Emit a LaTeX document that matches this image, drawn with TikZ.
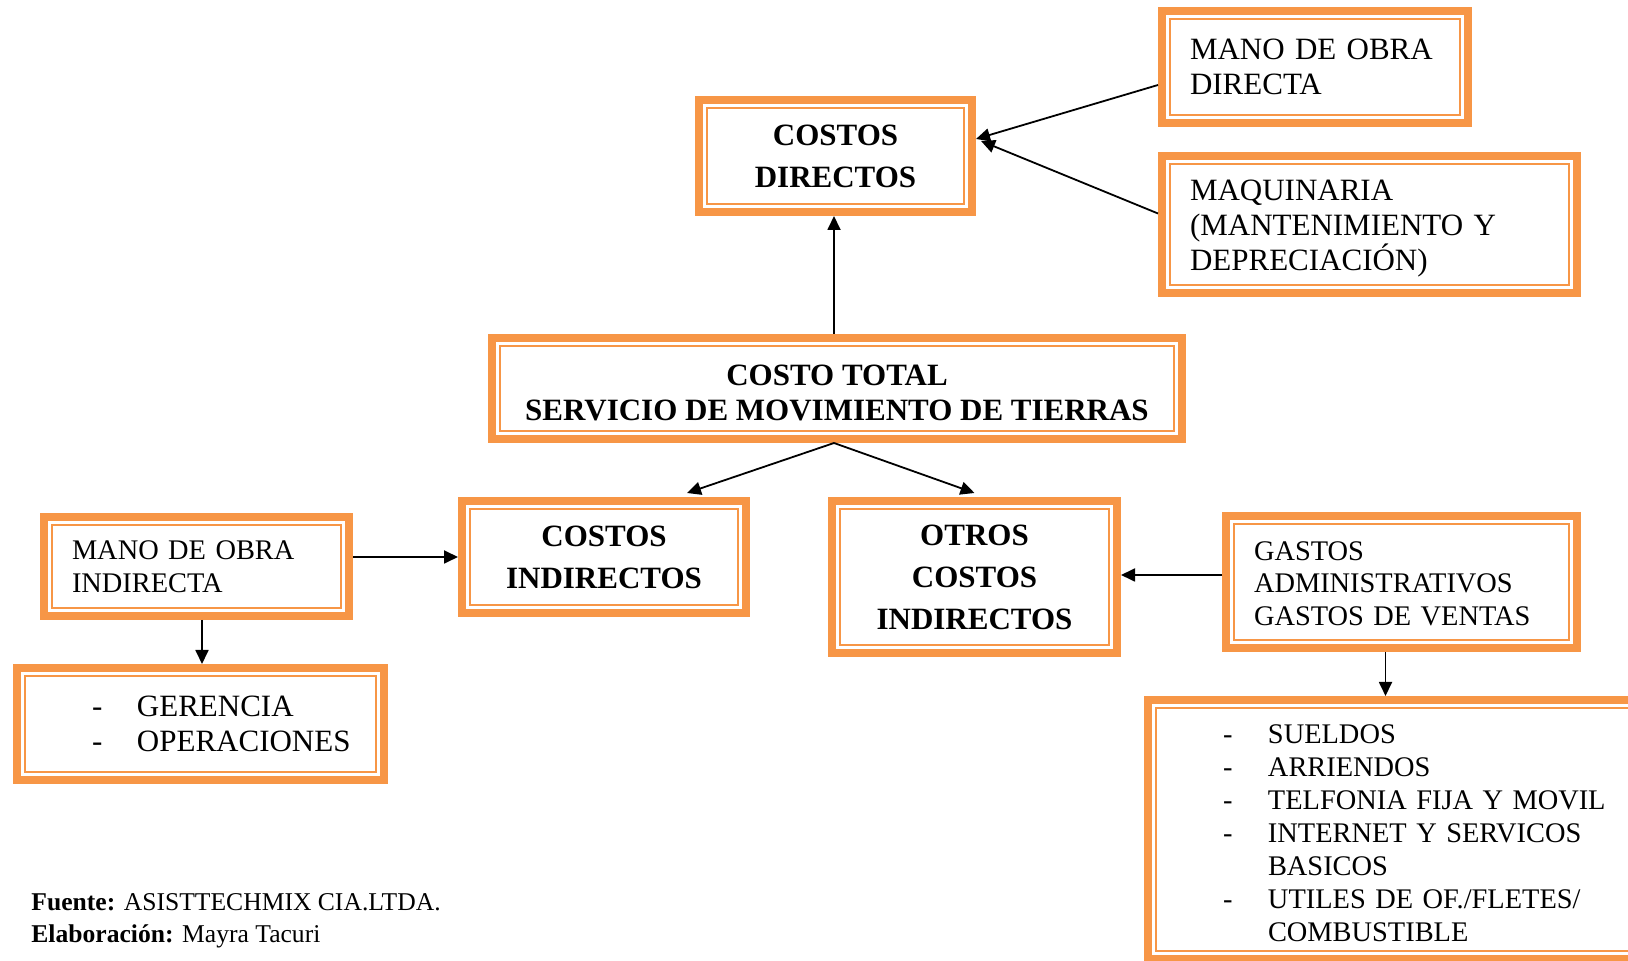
\documentclass[tikz,border=0pt]{standalone}
\usepackage{fontspec}
\setmainfont{Liberation Serif}
\usetikzlibrary{arrows.meta}

\definecolor{borde}{HTML}{F79646}
\newcommand{\guion}{\makebox[22.5pt][l]{-}}

\begin{document}
\begin{tikzpicture}[x=0.5pt,y=-0.5pt,
  caja/.style={draw=borde, line width=4pt, fill=white, inner sep=0pt},
  interior/.style={draw=borde, line width=1pt},
  bajar/.style={execute at begin node={\rule{0pt}{#1}}},
  titulo/.style={font=\bfseries\fontsize{15.5}{21}\selectfont, align=center},
  grande/.style={font=\fontsize{15.5}{17.5}\selectfont, align=left},
  normal/.style={font=\fontsize{14.2}{16.5}\selectfont, align=left},
  flecha/.style={-{Triangle[length=7pt,width=6.5pt]}, line width=0.9pt}]
  \useasboundingbox (0,0) rectangle (1628,961);

  % costos directos
  \node[caja, titulo, minimum width=136.5pt, minimum height=56pt] (dir) at (835.5,156) {COSTOS\\DIRECTOS};
  \node[caja, grande, minimum width=153pt, minimum height=56pt, text width=125pt] (mod) at (1315,67) {MANO DE OBRA\\DIRECTA};
  \node[caja, grande, bajar=14.5pt, minimum width=207.5pt, minimum height=68.5pt, text width=179.5pt] (maq) at (1369.5,224.5) {MAQUINARIA\\(MANTENIMIENTO Y\\DEPRECIACIÓN)};

  % costo total
  \node[caja, titulo, font=\bfseries\fontsize{15.5}{17.5}\selectfont, minimum width=345pt, minimum height=50.5pt] (total) at (837,388.5) {\rule{0pt}{14.5pt}COSTO TOTAL\\SERVICIO DE MOVIMIENTO DE TIERRAS};

  % costos indirectos
  \node[caja, titulo, minimum width=142pt, minimum height=56pt] (ind) at (604,557) {COSTOS\\INDIRECTOS};
  \node[caja, normal, minimum width=152.5pt, minimum height=49.5pt, text width=124.5pt] (moi) at (196.5,566.5) {MANO DE OBRA\\INDIRECTA};
  \node[caja, grande, minimum width=183.5pt, minimum height=56pt, text width=108.5pt] (ger) at (200.5,724) {\guion GERENCIA\\\guion OPERACIONES};

  % otros costos indirectos
  \node[caja, titulo, minimum width=142.5pt, minimum height=76pt] (otros) at (974.5,577) {OTROS\\COSTOS\\INDIRECTOS};
  \node[caja, normal, bajar=11pt, font=\fontsize{14.2}{16.25}\selectfont, minimum width=175.5pt, minimum height=66pt, text width=147.5pt] (gastos) at (1401.5,582) {GASTOS\\ADMINISTRATIVOS\\GASTOS DE VENTAS};
  \node[caja, normal, bajar=13.5pt, minimum width=275pt, minimum height=129.5pt, text width=200pt] (lista) at (1423,829.5) {\guion SUELDOS\\\guion ARRIENDOS\\\guion TELFONIA FIJA Y MOVIL\\\guion INTERNET Y SERVICOS\\\hspace*{22.5pt}BASICOS\\\guion UTILES DE OF./FLETES/\\\hspace*{22.5pt}COMBUSTIBLE};

  % doble borde
  \foreach \n in {dir,mod,maq,total,ind,moi,ger,otros,gastos,lista}
    \draw[interior] ([shift={(6pt,-6pt)}]\n.north west) rectangle ([shift={(-6pt,6pt)}]\n.south east);

  \draw[flecha] ([xshift=-1.5pt]total.north) -- ([xshift=-1.5pt]total.north |- dir.south);
  \draw[flecha] ([yshift=-9pt]mod.west) -- ([yshift=8.5pt]dir.east);
  \draw[flecha] ([yshift=5.5pt]maq.west) -- ([xshift=2.5pt,yshift=7.5pt]dir.east);
  \draw[flecha] ([xshift=-1.5pt]total.south) -- ([xshift=41.5pt,yshift=2pt]ind.north);
  \draw[flecha] ([xshift=-1.5pt]total.south) -- ([yshift=2pt]otros.north);
  \draw[flecha] (moi.east |- ind.west) -- (ind.west);
  \draw[flecha] ([xshift=2.75pt]moi.south) -- ([xshift=2.75pt]moi.south |- ger.north);
  \draw[flecha] ([yshift=3.5pt]gastos.west) -- ([yshift=3.5pt]gastos.west -| otros.east);
  \draw[flecha] ([xshift=-8pt]gastos.south) -- ([xshift=-8pt]gastos.south |- lista.north);

  \node[anchor=north west, inner sep=0pt, align=left, font=\fontsize{12.8}{16}\selectfont] (fuente) at (31,893) {\textbf{Fuente:} ASISTTECHMIX CIA.LTDA.\\\textbf{Elaboración:} Mayra Tacuri};
\end{tikzpicture}
\end{document}
